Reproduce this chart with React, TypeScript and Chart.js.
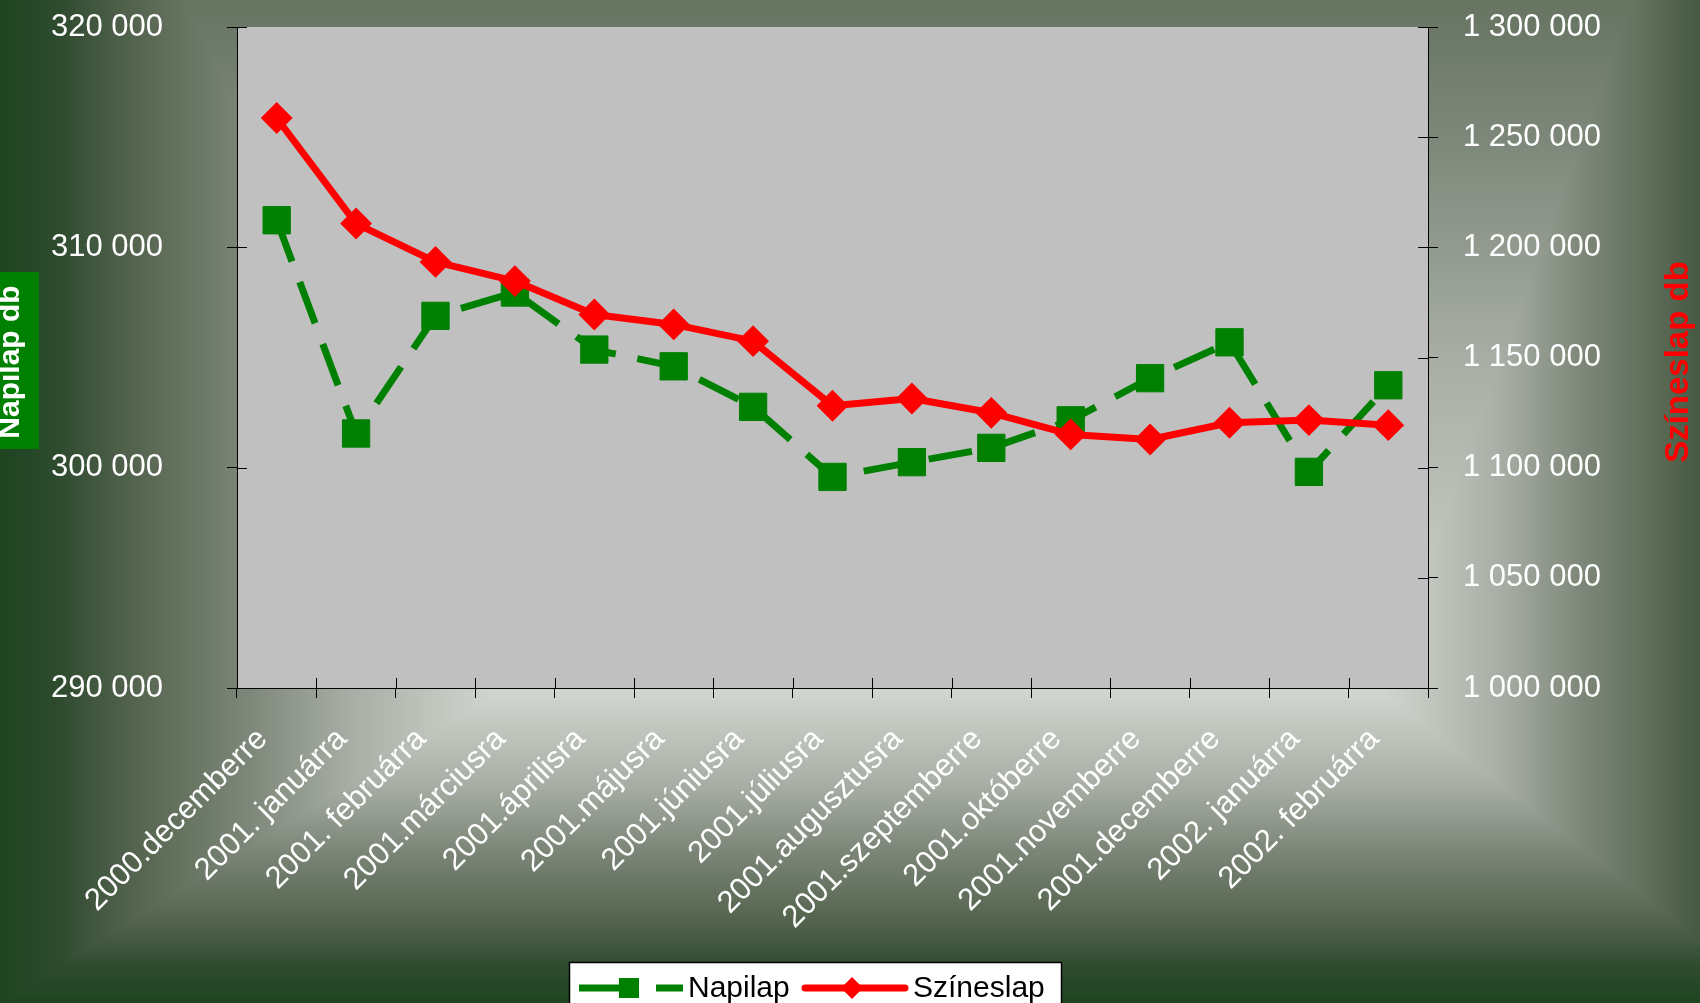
import React, { useEffect, useRef } from 'react';
import { Chart, registerables } from 'chart.js';

Chart.register(...registerables);

const categories: string[] = [
  '2000.decemberre',
  '2001. januárra',
  '2001. februárra',
  '2001.márciusra',
  '2001.áprilisra',
  '2001.májusra',
  '2001.júniusra',
  '2001.júliusra',
  '2001.augusztusra',
  '2001.szeptemberre',
  '2001.októberre',
  '2001.novemberre',
  '2001.decemberre',
  '2002. januárra',
  '2002. februárra',
];

const napilap: number[] = [
  311230, 301550, 306890, 307950, 305360, 304600, 302760, 299580,
  300250, 300900, 302150, 304060, 305690, 299810, 303740,
];

const szineslap: number[] = [
  1258700, 1210800, 1193400, 1184700, 1169500, 1165000, 1157400, 1128100,
  1131400, 1124900, 1115100, 1112800, 1120400, 1121600, 1119300,
];

const leftMin = 290000;
const leftMax = 320000;
const leftStep = 10000;
const rightMin = 1000000;
const rightMax = 1300000;
const rightStep = 50000;

const leftTitle = 'Napilap db';
const rightTitle = 'Színeslap db';
const seriesNames = ['Napilap', 'Színeslap'];

const FONT = "'Liberation Sans', Arial, sans-serif";
const W = 1700;
const H = 1003;

const fmt = (v: number) => String(Math.round(v)).replace(/\B(?=(\d{3})+(?!\d))/g, ' ');

function hexToRgb(h: string) {
  const n = parseInt(h.slice(1), 16);
  return [(n >> 16) & 255, (n >> 8) & 255, n & 255];
}

const rampStops: [number, string][] = [
  [0, '#d2d6d0'],
  [0.3, '#a8aea5'],
  [0.5, '#7e887a'],
  [0.7, '#5a6954'],
  [0.78, '#495c46'],
  [0.88, '#2f4b2f'],
  [1, '#1e4420'],
];

function rampColor(t: number) {
  const stops = rampStops.map(([p, c]) => [p, hexToRgb(c)] as [number, number[]]);
  if (t <= 0) return stops[0][1];
  for (let i = 1; i < stops.length; i++) {
    if (t <= stops[i][0]) {
      const [p0, c0] = stops[i - 1];
      const [p1, c1] = stops[i];
      const f = (t - p0) / (p1 - p0);
      return [0, 1, 2].map((k) => c0[k] + (c1[k] - c0[k]) * f);
    }
  }
  return stops[stops.length - 1][1];
}

function makeBackground(): HTMLCanvasElement {
  const c = document.createElement('canvas');
  c.width = W;
  c.height = H;
  const g = c.getContext('2d')!;
  const img = g.createImageData(W, H);
  const lut: number[][] = [];
  for (let i = 0; i <= 1000; i++) lut.push(rampColor(i / 1000));
  const fx0 = 500, fx1 = 1380, fy = 690;
  const L = 500, R = 400, T = 1100, B = 313;
  for (let y = 0; y < H; y++) {
    const ty = y < fy ? (fy - y) / T : (y - fy) / B;
    for (let x = 0; x < W; x++) {
      const tx = x < fx0 ? (fx0 - x) / L : x > fx1 ? (x - fx1) / R : 0;
      let t = Math.max(tx, ty);
      if (t > 1) t = 1;
      const col = lut[Math.round(t * 1000)];
      const o = (y * W + x) * 4;
      img.data[o] = col[0];
      img.data[o + 1] = col[1];
      img.data[o + 2] = col[2];
      img.data[o + 3] = 255;
    }
  }
  g.putImageData(img, 0, 0);
  return c;
}

export default function App() {
  const ref = useRef<HTMLCanvasElement | null>(null);

  useEffect(() => {
    const canvas = ref.current;
    if (!canvas) return;
    const bg = makeBackground();

    const bgPlugin = {
      id: 'bgPlugin',
      beforeDraw(chart: any) {
        const { ctx, chartArea } = chart;
        ctx.save();
        ctx.drawImage(bg, 0, 0);
        ctx.fillStyle = '#c0c0c0';
        ctx.fillRect(chartArea.left, chartArea.top, chartArea.right - chartArea.left, chartArea.bottom - chartArea.top);
        ctx.restore();
      },
    };

    const innerTicks = {
      id: 'innerTicks',
      beforeDatasetsDraw(chart: any) {
        const { ctx, chartArea } = chart;
        const { left, right, bottom } = chartArea;
        const sy = chart.scales.y;
        const sy1 = chart.scales.y1;
        const sx = chart.scales.x;
        ctx.save();
        ctx.strokeStyle = '#000';
        ctx.lineWidth = 1;
        ctx.beginPath();
        sy.ticks.forEach((t: any) => {
          const p = Math.round(sy.getPixelForValue(t.value)) + 0.5;
          ctx.moveTo(left, p);
          ctx.lineTo(left + 10, p);
        });
        sy1.ticks.forEach((t: any) => {
          const p = Math.round(sy1.getPixelForValue(t.value)) + 0.5;
          ctx.moveTo(right - 10, p);
          ctx.lineTo(right, p);
        });
        for (let i = 0; i <= categories.length; i++) {
          const p = Math.round(sx.getPixelForValue(i - 0.5)) + 0.5;
          ctx.moveTo(p, bottom - 10);
          ctx.lineTo(p, bottom);
        }
        ctx.stroke();
        ctx.restore();
      },
    };

    const extras = {
      id: 'extras',
      afterDraw(chart: any) {
        const { ctx } = chart;
        ctx.save();
        // left title box
        ctx.fillStyle = '#008000';
        ctx.fillRect(0, 272, 39, 177);
        ctx.save();
        ctx.translate(11, 362);
        ctx.rotate(-Math.PI / 2);
        ctx.fillStyle = '#ffffff';
        ctx.font = `bold 30px ${FONT}`;
        ctx.textAlign = 'center';
        ctx.textBaseline = 'middle';
        ctx.fillText(leftTitle, 0, 0);
        ctx.restore();
        // right title
        ctx.save();
        ctx.translate(1679, 362);
        ctx.rotate(-Math.PI / 2);
        ctx.fillStyle = '#ff0000';
        ctx.font = `bold 33px ${FONT}`;
        ctx.textAlign = 'center';
        ctx.textBaseline = 'middle';
        ctx.fillText(rightTitle, 0, 0);
        ctx.restore();

        // legend
        ctx.fillStyle = '#ffffff';
        ctx.fillRect(569, 962, 492, 60);
        ctx.strokeStyle = '#000000';
        ctx.lineWidth = 1.5;
        ctx.strokeRect(569.5, 962.5, 492, 60);
        const ly = 988;
        ctx.strokeStyle = '#008000';
        ctx.lineWidth = 7;
        ctx.lineCap = 'butt';
        ctx.setLineDash([56, 21]);
        ctx.beginPath();
        ctx.moveTo(579, ly);
        ctx.lineTo(683, ly);
        ctx.stroke();
        ctx.setLineDash([]);
        ctx.fillStyle = '#008000';
        ctx.fillRect(619, ly - 10, 20, 20);
        ctx.fillStyle = '#000000';
        ctx.font = `30px ${FONT}`;
        ctx.textAlign = 'left';
        ctx.textBaseline = 'alphabetic';
        ctx.fillText(seriesNames[0], 688, 997);

        ctx.strokeStyle = '#ff0000';
        ctx.lineWidth = 7;
        ctx.lineCap = 'round';
        ctx.beginPath();
        ctx.moveTo(805, ly);
        ctx.lineTo(905, ly);
        ctx.stroke();
        ctx.fillStyle = '#ff0000';
        ctx.beginPath();
        ctx.moveTo(852 - 11, ly);
        ctx.lineTo(852, ly - 11);
        ctx.lineTo(852 + 11, ly);
        ctx.lineTo(852, ly + 11);
        ctx.closePath();
        ctx.fill();
        ctx.fillStyle = '#000000';
        ctx.fillText(seriesNames[1], 913, 997);
        ctx.restore();
      },
    };

    const tickFont = { family: FONT, size: 31 };
    const gridOpts = { drawOnChartArea: false, drawTicks: true, tickLength: 10, color: '#000', lineWidth: 1 };
    const borderOpts = { display: true, color: '#000', width: 1 };

    const chart = new Chart(canvas, {
      type: 'line',
      data: {
        labels: categories,
        datasets: [
          {
            label: seriesNames[1],
            data: szineslap,
            yAxisID: 'y1',
            order: 0,
            borderColor: '#ff0000',
            backgroundColor: '#ff0000',
            borderWidth: 7,
            borderJoinStyle: 'round',
            borderCapStyle: 'round',
            pointStyle: 'rectRot',
            pointRadius: 14.5,
            pointBorderWidth: 2,
            pointBackgroundColor: '#ff0000',
            pointBorderColor: '#ff0000',
            tension: 0,
            fill: false,
          },
          {
            label: seriesNames[0],
            data: napilap,
            yAxisID: 'y',
            order: 1,
            borderColor: '#008000',
            backgroundColor: '#008000',
            borderWidth: 7,
            borderDash: [44, 22],
            pointStyle: 'rect',
            pointRadius: 19.3,
            pointBorderWidth: 1,
            pointBackgroundColor: '#008000',
            pointBorderColor: '#008000',
            tension: 0,
            fill: false,
          },
        ],
      },
      options: {
        responsive: false,
        animation: false,
        devicePixelRatio: 1,
        layout: { padding: { top: 27, left: 0, right: 0, bottom: 0 } },
        plugins: {
          legend: { display: false },
          tooltip: { enabled: false },
          title: { display: false },
        },
        scales: {
          x: {
            type: 'category',
            offset: true,
            grid: { ...gridOpts, offset: true },
            border: borderOpts,
            ticks: {
              autoSkip: false,
              maxRotation: 45,
              minRotation: 45,
              padding: 23,
              labelOffset: -14,
              color: '#ffffff',
              font: tickFont,
            },
            afterFit: (s: any) => {
              s.height = 315;
              s.paddingLeft = 0;
              s.paddingRight = 0;
            },
          },
          y: {
            position: 'left',
            min: leftMin,
            max: leftMax,
            grid: gridOpts,
            border: borderOpts,
            ticks: {
              stepSize: leftStep,
              padding: 64,
              color: '#ffffff',
              font: tickFont,
              callback: (v: any) => fmt(Number(v)),
            },
            afterFit: (s: any) => {
              s.width = 237;
              s.paddingTop = 0;
              s.paddingBottom = 0;
            },
          },
          y1: {
            position: 'right',
            min: rightMin,
            max: rightMax,
            grid: gridOpts,
            border: borderOpts,
            ticks: {
              stepSize: rightStep,
              padding: 25,
              color: '#ffffff',
              font: tickFont,
              callback: (v: any) => fmt(Number(v)),
            },
            afterFit: (s: any) => {
              s.width = 272;
              s.paddingTop = 0;
              s.paddingBottom = 0;
            },
          },
        },
      } as any,
      plugins: [bgPlugin, innerTicks, extras],
    });

    return () => {
      chart.destroy();
    };
  }, []);

  return (
    <div style={{ position: 'fixed', left: 0, top: 0, width: W, height: H, overflow: 'hidden' }}>
      <canvas ref={ref} width={W} height={H} style={{ display: 'block', width: W, height: H }} />
    </div>
  );
}
